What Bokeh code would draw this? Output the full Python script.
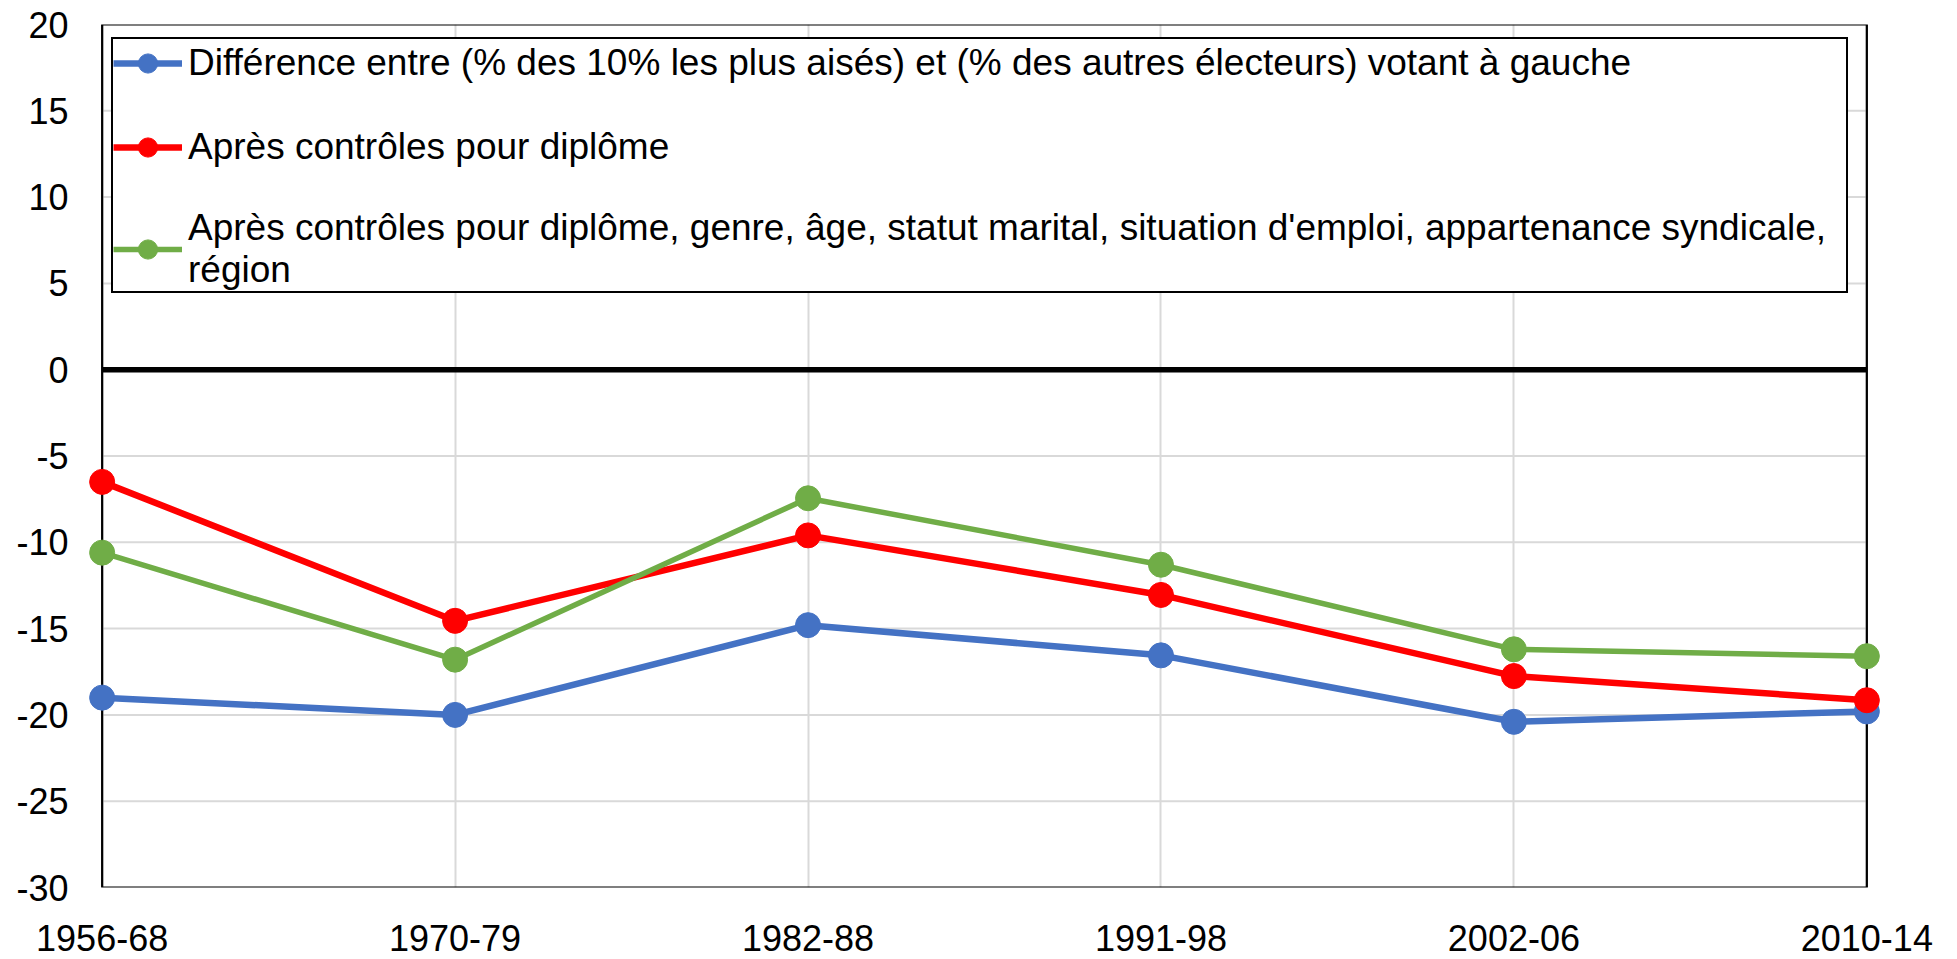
from bokeh.plotting import figure
from bokeh.models import Range1d, FixedTicker, Legend, LegendItem
from bokeh.embed import file_html
from bokeh.resources import INLINE

# ---- data ----
periods = ["1956-68", "1970-79", "1982-88", "1991-98", "2002-06", "2010-14"]
diff_raw = [-19.0, -20.0, -14.8, -16.55, -20.4, -19.8]
diff_diplome = [-6.5, -14.55, -9.6, -13.05, -17.75, -19.15]
diff_all_controls = [-10.6, -16.8, -7.45, -11.3, -16.2, -16.6]
series_labels = [
    "Différence entre (% des 10% les plus aisés) et (% des autres électeurs) votant à gauche",
    "Après contrôles pour diplôme",
    "Après contrôles pour diplôme, genre, âge, statut marital, situation d'emploi, appartenance syndicale,\nrégion",
]
series_colors = ["#4472C4", "#FF0000", "#70AD47"]
series_widths = [6.5, 6.5, 5.5]
y_ticks = [-30, -25, -20, -15, -10, -5, 0, 5, 10, 15, 20]

FONT = "Liberation Sans"
FS = "36px"

xs = list(range(len(periods)))
x_first, x_last = xs[0], xs[-1]
y_min, y_max = y_ticks[0], y_ticks[-1]

p = figure(
    width=1957, height=959,
    x_range=Range1d(x_first - 0.05, x_last + 0.05),
    y_range=Range1d(y_min, y_max),
    min_border_left=84, min_border_right=73,
    min_border_top=24, min_border_bottom=72,
    toolbar_location=None, output_backend="svg",
    background_fill_color="white", border_fill_color="white",
    outline_line_color=None,
)

# grids
p.ygrid.grid_line_color = None
p.xgrid.ticker = FixedTicker(ticks=xs)
p.xgrid.grid_line_color = "#d9d9d9"
p.xgrid.grid_line_width = 2

inner = y_ticks[1:-1]
p.segment(x0=[x_first] * len(inner), x1=[x_last] * len(inner),
          y0=inner, y1=inner, line_color="#d9d9d9", line_width=2)

# plot box (category span x value span)
p.quad(left=[x_first], right=[x_last], bottom=[y_min], top=[y_max],
       fill_alpha=0, line_color="black", line_width=2.2)

# zero line
p.line(x=[x_first, x_last], y=[0, 0], line_color="black", line_width=5.5)

# axes
p.yaxis.ticker = FixedTicker(ticks=y_ticks)
p.yaxis.major_label_overrides = {t: str(t) for t in y_ticks}
p.yaxis.axis_line_color = None
p.yaxis.major_tick_line_color = None
p.yaxis.minor_tick_line_color = None
p.yaxis.major_tick_out = 0
p.yaxis.minor_tick_out = 0
p.yaxis.major_label_standoff = 16
p.yaxis.major_label_text_font = FONT
p.yaxis.major_label_text_font_size = FS
p.yaxis.major_label_text_color = "black"

p.xaxis.ticker = FixedTicker(ticks=xs)
p.xaxis.major_label_overrides = {i: lab for i, lab in zip(xs, periods)}
p.xaxis.axis_line_color = None
p.xaxis.major_tick_line_color = None
p.xaxis.minor_tick_line_color = None
p.xaxis.major_tick_out = 0
p.xaxis.minor_tick_out = 0
p.xaxis.major_label_standoff = 37
p.xaxis.major_label_text_font = FONT
p.xaxis.major_label_text_font_size = FS
p.xaxis.major_label_text_color = "black"

items = []
for vals, col, lw, lab in zip([diff_raw, diff_diplome, diff_all_controls],
                              series_colors, series_widths, series_labels):
    r_line = p.line(x=xs, y=vals, line_color=col, line_width=lw)
    r_pt = p.scatter(x=xs, y=vals, size=25, fill_color=col, line_color=col)
    items.append(LegendItem(label=lab, renderers=[r_line, r_pt]))

legend = Legend(
    items=items, location=(27, 594),
    label_text_font=FONT, label_text_font_size="37px", label_text_color="black",
    glyph_width=69, glyph_height=48, label_standoff=6, label_width=1658,
    spacing=36, padding=0, margin=0,
    border_line_color="black", border_line_width=2, border_line_alpha=1,
    background_fill_color="white", background_fill_alpha=1,
)
p.add_layout(legend)

open("out.html", "w").write(file_html(p, INLINE))
